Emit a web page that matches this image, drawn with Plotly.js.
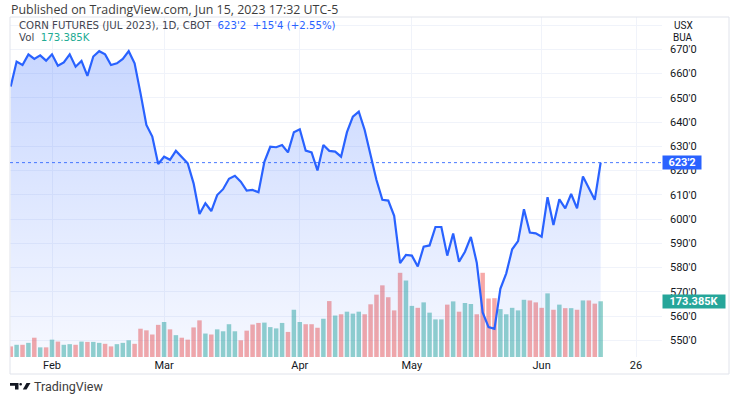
<!DOCTYPE html>
<html>
<head>
<meta charset="utf-8">
<script src="https://cdn.plot.ly/plotly-3.0.1.min.js"></script>
<style>
html,body{margin:0;padding:0;background:#fff;}
#chart{width:739px;height:397px;}
</style>
</head>
<body>
<div id="chart"></div>
<script>
// ---- DATA ----
const dates = [
 '2023-01-23','2023-01-24','2023-01-25','2023-01-26','2023-01-27','2023-01-30','2023-01-31',
 '2023-02-01','2023-02-02','2023-02-03','2023-02-06','2023-02-07','2023-02-08','2023-02-09','2023-02-10',
 '2023-02-13','2023-02-14','2023-02-15','2023-02-16','2023-02-17','2023-02-21','2023-02-22','2023-02-23',
 '2023-02-24','2023-02-27','2023-02-28',
 '2023-03-01','2023-03-02','2023-03-03','2023-03-06','2023-03-07','2023-03-08','2023-03-09','2023-03-10',
 '2023-03-13','2023-03-14','2023-03-15','2023-03-16','2023-03-17','2023-03-20','2023-03-21','2023-03-22',
 '2023-03-23','2023-03-24','2023-03-27','2023-03-28','2023-03-29','2023-03-30','2023-03-31',
 '2023-04-03','2023-04-04','2023-04-05','2023-04-06','2023-04-10','2023-04-11','2023-04-12','2023-04-13',
 '2023-04-14','2023-04-17','2023-04-18','2023-04-19','2023-04-20','2023-04-21','2023-04-24','2023-04-25',
 '2023-04-26','2023-04-27','2023-04-28',
 '2023-05-01','2023-05-02','2023-05-03','2023-05-04','2023-05-05','2023-05-08','2023-05-09','2023-05-10',
 '2023-05-11','2023-05-12','2023-05-15','2023-05-16','2023-05-17','2023-05-18','2023-05-19','2023-05-22',
 '2023-05-23','2023-05-24','2023-05-25','2023-05-26','2023-05-30','2023-05-31',
 '2023-06-01','2023-06-02','2023-06-05','2023-06-06','2023-06-07','2023-06-08','2023-06-09','2023-06-12',
 '2023-06-13','2023-06-14','2023-06-15'
];
const futureDates = ['2023-06-16','2023-06-20','2023-06-21','2023-06-22','2023-06-23','2023-06-26'];

const closes = [
 654.6,664.9,663.5,667.9,666.0,667.5,665.3,667.9,663.2,664.6,
 667.9,662.8,665.2,659.0,667.0,669.2,667.9,663.5,664.2,666.0,
 669.2,664.2,651.9,638.8,634.0,622.7,625.7,624.4,628.1,625.7,
 623.0,614.7,602.1,606.5,603.3,609.9,612.3,616.6,617.8,615.4,
 611.7,612.0,611.0,623.6,629.8,629.6,630.5,627.5,635.8,637.0,
 628.2,627.5,620.0,630.5,628.1,627.8,625.7,635.8,642.2,644.3,
 636.7,626.4,616.1,607.9,607.6,601.3,581.8,585.2,584.9,580.4,
 588.6,589.1,596.7,596.7,584.9,594.0,582.4,586.5,592.6,582.0,
 561.5,555.4,554.7,571.2,577.6,587.5,590.9,604.0,594.4,594.1,
 592.7,609.0,597.5,608.1,604.4,610.3,604.4,617.5,612.7,607.9,
 623.25
];

// volume in thousands
const volumesK = [
 33,38,38,44,60,30,30,54,48,38,
 40,38,48,47,47,44,41,33,40,44,
 52,41,88,83,70,100,109,86,68,60,
 54,92,114,73,70,86,80,102,80,52,
 82,101,106,107,93,89,106,78,147,109,
 102,102,91,119,174,129,133,141,135,141,
 133,164,194,223,186,145,262,238,159,153,
 170,138,117,117,163,173,141,168,165,133,
 262,182,183,149,133,153,145,178,176,170,
 153,198,147,163,152,152,147,176,176,166,
 173.385
];
// bar direction: 'u' = up day, 'd' = down day
const volDir = [
 'd','u','d','u','d','u','d','u','d','u',
 'u','d','u','d','u','u','d','d','u','u',
 'u','d','d','d','d','d','u','d','u','d',
 'd','d','d','u','d','u','u','u','u','d',
 'd','d','d','u','u','u','u','d','u','u',
 'd','d','d','u','d','u','d','u','u','u',
 'd','d','d','d','d','d','d','u','u','d',
 'u','u','u','u','d','u','d','u','u','d',
 'd','d','d','u','u','u','u','u','d','d',
 'd','u','d','u','d','u','d','u','d','d',
 'u'
];

const tickDates = ['2023-02-01','2023-03-01','2023-04-03','2023-05-01','2023-06-01','2023-06-26'];
const tickLabels = ['Feb','Mar','Apr','May','Jun','26'];
const priceTicks = [550,560,570,580,590,600,610,620,630,640,650,660,670,680];

const lastPriceText = "623'2";
const changeText = "+15'4 (+2.55%)";
const lastVolText = "173.385K";

// ---- BUILD ----
const allDates = dates.concat(futureDates);
const xIdx = dates.map((d, i) => i);
const tickIdx = tickDates.map(d => allDates.indexOf(d));
const priceTickText = priceTicks.map(v => v === 680 ? '' : v + "'0");

const W = 739, H = 397;
const M = {l: 10, r: 77, t: 17, b: 40};
const PW = W - M.l - M.r, PH = H - M.t - M.b;
const px = x => (x - M.l) / PW;
const py = y => (H - M.b - y) / PH;

const UP = 'rgba(38,166,154,0.5)', DOWN = 'rgba(239,83,80,0.5)';
const FONT = 'Roboto, "Noto Sans", sans-serif';
const HFONT = '"Open Sans", Roboto, sans-serif';
const WFONT = '"DejaVu Sans", "Open Sans", sans-serif';

const volTrace = {
  type: 'bar', x: xIdx, y: volumesK, yaxis: 'y', xaxis: 'x',
  marker: {color: volDir.map(d => d === 'u' ? UP : DOWN), line: {width: 0}},
  width: 0.76, hoverinfo: 'skip'
};
const lastPrice = closes[closes.length - 1];
const lineTrace = {
  type: 'scatter', mode: 'lines', x: xIdx, y: closes, yaxis: 'y2', xaxis: 'x',
  line: {color: '#2962ff', width: 2.2, shape: 'linear'},
  fill: 'tozeroy',
  fillgradient: {type: 'vertical', start: 543, stop: 672,
    colorscale: [[0, 'rgba(41,98,255,0.04)'], [1, 'rgba(41,98,255,0.26)']]},
  hoverinfo: 'skip'
};

function pathPx(pts){ return 'M ' + pts.map(p => px(p[0]) + ' ' + py(p[1])).join(' L ') + ' Z'; }

const layout = {
  width: W, height: H,
  margin: M,
  paper_bgcolor: '#ffffff', plot_bgcolor: '#ffffff',
  showlegend: false, hovermode: false, bargap: 0.2,
  font: {family: FONT, size: 11, color: '#131722'},
  xaxis: {
    range: [-0.12, 110.4], tickmode: 'array', tickvals: tickIdx, ticktext: tickLabels,
    showgrid: true, gridcolor: '#f0f3fa', gridwidth: 1, zeroline: false, showline: false,
    ticks: '', tickfont: {size: 11, color: '#131722'}, fixedrange: true
  },
  yaxis: {range: [0, 1058], visible: false, showgrid: false, zeroline: false, fixedrange: true},
  yaxis2: {
    overlaying: 'y', side: 'right', anchor: 'x',
    range: [543.1, 683.3], tickmode: 'array', tickvals: priceTicks, ticktext: priceTickText,
    showgrid: true, gridcolor: '#f0f3fa', gridwidth: 1, zeroline: false, showline: false,
    ticks: '', ticklabelstandoff: 7, tickfont: {size: 11, color: '#131722'}, fixedrange: true
  },
  shapes: [
    {type: 'rect', xref: 'paper', yref: 'paper', x0: px(10), x1: px(729), y0: py(374), y1: py(17),
     line: {color: '#e0e3eb', width: 1}, fillcolor: 'rgba(0,0,0,0)', layer: 'above'},
    {type: 'line', xref: 'paper', yref: 'y2', x0: 0, x1: 1, y0: lastPrice, y1: lastPrice,
     line: {color: 'rgba(41,98,255,0.85)', width: 1, dash: 'dot'}},
    {type: 'path', xref: 'paper', yref: 'paper', path: pathPx([[10,383],[18.5,383],[18.5,389.5],[15,389.5],[15,385.8],[10,385.8]]),
     fillcolor: '#131722', line: {width: 0}},
    {type: 'circle', xref: 'paper', yref: 'paper', x0: px(19.3), x1: px(22), y0: py(385.6), y1: py(382.9),
     fillcolor: '#131722', line: {width: 0}},
    {type: 'path', xref: 'paper', yref: 'paper', path: pathPx([[26.5,383],[30.5,383],[26.5,389.5],[22.8,389.5]]),
     fillcolor: '#131722', line: {width: 0}}
  ],
  annotations: [
    {xref: 'paper', yref: 'paper', x: px(9), y: py(9), xanchor: 'left', yanchor: 'middle', showarrow: false,
     text: 'Published on TradingView.com, Jun 15, 2023 17:32 UTC-5', font: {family: HFONT, size: 12.4, color: '#3c3c3c'}},
    {xref: 'paper', yref: 'paper', x: px(17), y: py(25.5), xanchor: 'left', yanchor: 'middle', showarrow: false,
     text: 'CORN FUTURES (JUL 2023), 1D, CBOT  <span style="color:#2962ff">' + lastPriceText + '  ' + changeText + '</span>',
     font: {family: WFONT, size: 10.2, color: '#434651'}},
    {xref: 'paper', yref: 'paper', x: px(17), y: py(37.5), xanchor: 'left', yanchor: 'middle', showarrow: false,
     text: 'Vol  <span style="color:#22ab94">' + lastVolText + '</span>', font: {family: WFONT, size: 10.2, color: '#434651'}},
    {xref: 'paper', yref: 'paper', x: px(683), y: py(25), xanchor: 'center', yanchor: 'middle', showarrow: false,
     text: 'USX', font: {size: 10, color: '#131722'}},
    {xref: 'paper', yref: 'paper', x: px(683), y: py(37), xanchor: 'center', yanchor: 'middle', showarrow: false,
     text: 'BUA', font: {size: 10, color: '#131722'}},
    {xref: 'paper', yref: 'y2', x: px(662), y: lastPrice, xanchor: 'left', yanchor: 'middle', showarrow: false,
     text: '<b>' + lastPriceText + '</b>', font: {size: 11, color: '#ffffff'}, bgcolor: '#2962ff',
     width: 36, height: 11, borderpad: 1, align: 'center'},
    {xref: 'paper', yref: 'y', x: px(662), y: volumesK[volumesK.length - 1], xanchor: 'left', yanchor: 'middle', showarrow: false,
     text: '<b>' + lastVolText + '</b>', font: {size: 11, color: '#ffffff'}, bgcolor: '#26a69a',
     width: 60, height: 11, borderpad: 1, align: 'center'},
    {xref: 'paper', yref: 'paper', x: px(32), y: py(386.5), xanchor: 'left', yanchor: 'middle', showarrow: false,
     text: 'TradingView', font: {size: 12.5, color: '#3c3c3c'}}
  ]
};

Plotly.newPlot('chart', [volTrace, lineTrace], layout, {staticPlot: true, displayModeBar: false});
</script>
</body>
</html>
